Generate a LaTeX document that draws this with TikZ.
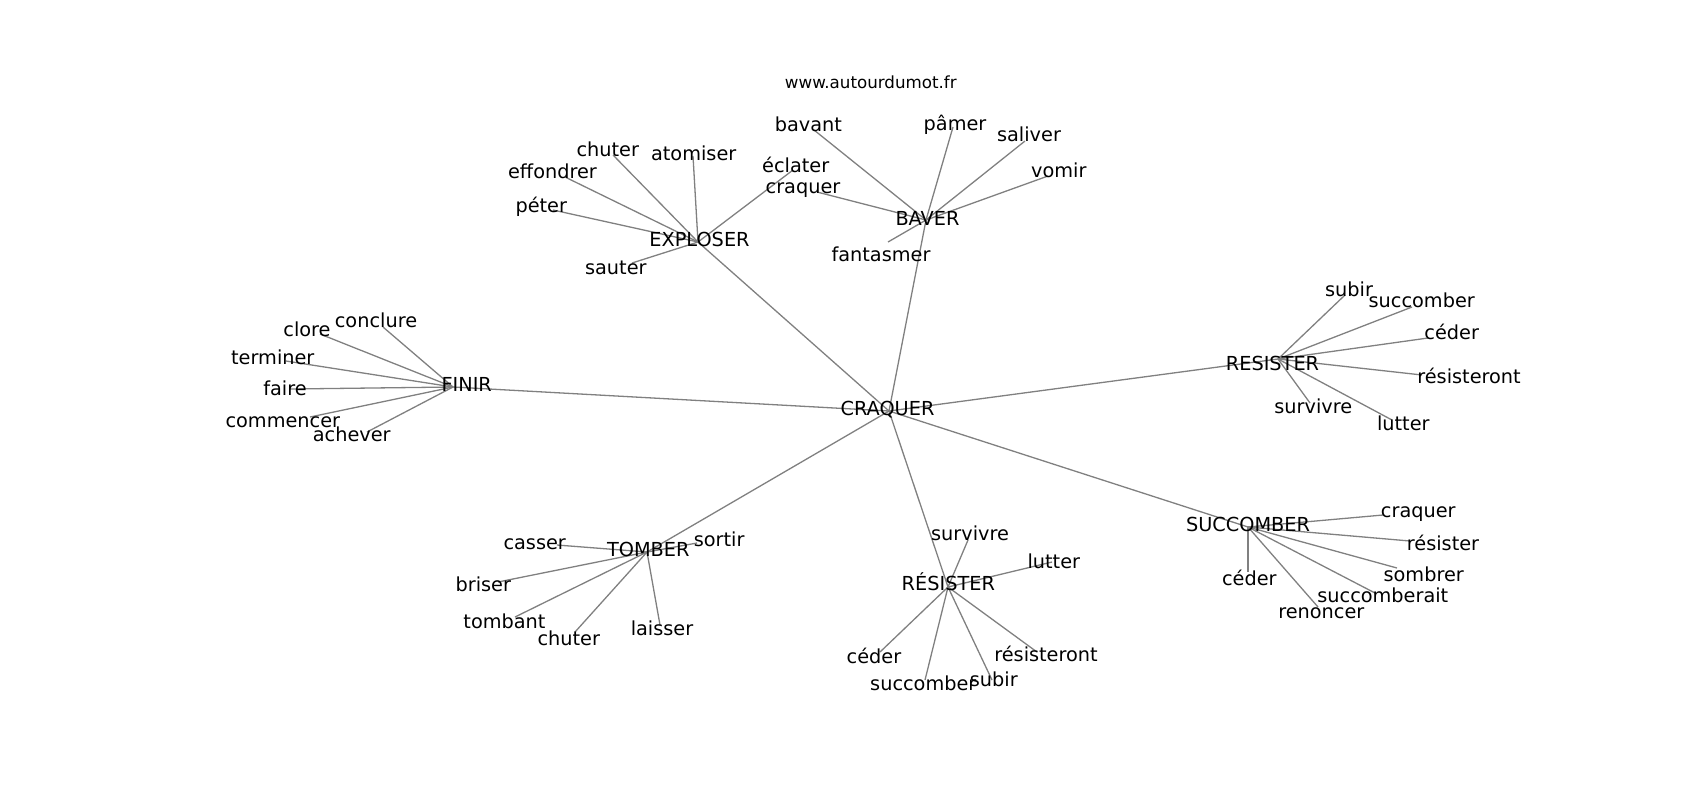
\documentclass[tikz,border=0pt]{standalone}
\usepackage{fontspec}
\setmainfont{DejaVu Sans}
\definecolor{edgegray}{RGB}{128,128,128}

\begin{document}
\begin{tikzpicture}[x=0.5pt,y=-0.5pt,
    edge/.style={draw=edgegray, line width=0.65pt},
    word/.style={inner sep=0pt, anchor=base, font=\fontsize{9.65}{11}\selectfont},
    site/.style={inner sep=0pt, anchor=base, font=\fontsize{8.35}{10}\selectfont}]
\useasboundingbox (0,0) rectangle (1700,800);

% graph points
\coordinate (craquer) at (889,411);
\coordinate (exploser) at (698,242);
\coordinate (baver) at (926,220);
\coordinate (finir) at (453,387);
\coordinate (resister) at (1278,359);
\coordinate (succomber) at (1248,527);
\coordinate (tomber) at (647,552);
\coordinate (resister2) at (948,587);

\coordinate (ex-chuter) at (613,155);
\coordinate (ex-atomiser) at (693,156);
\coordinate (ex-effondrer) at (565,177);
\coordinate (ex-peter) at (553,210);
\coordinate (ex-sauter) at (632,263);
\coordinate (ex-eclater) at (793,170);

\coordinate (ba-bavant) at (814,130);
\coordinate (ba-pamer) at (953,127);
\coordinate (ba-saliver) at (1025,141);
\coordinate (ba-vomir) at (1048,176);
\coordinate (ba-craquer) at (817,192);
\coordinate (ba-fantasmer) at (888,242);

\coordinate (fi-conclure) at (383,327);
\coordinate (fi-clore) at (320,334);
\coordinate (fi-terminer) at (286,361);
\coordinate (fi-faire) at (290,389);
\coordinate (fi-commencer) at (310,417);
\coordinate (fi-achever) at (367,432);

\coordinate (rs-subir) at (1345,295);
\coordinate (rs-succomber) at (1412,307);
\coordinate (rs-ceder) at (1428,338);
\coordinate (rs-resisteront) at (1422,375);
\coordinate (rs-survivre) at (1310,403);
\coordinate (rs-lutter) at (1392,420);

\coordinate (sc-craquer) at (1383,515);
\coordinate (sc-resister) at (1410,541);
\coordinate (sc-sombrer) at (1397,568);
\coordinate (sc-succomberait) at (1375,593);
\coordinate (sc-ceder) at (1248,572);
\coordinate (sc-renoncer) at (1318,607);

\coordinate (to-casser) at (557,545);
\coordinate (to-sortir) at (697,543);
\coordinate (to-briser) at (498,582);
\coordinate (to-tombant) at (515,617);
\coordinate (to-chuter) at (575,632);
\coordinate (to-laisser) at (660,625);

\coordinate (re-survivre) at (968,540);
\coordinate (re-lutter) at (1052,562);
\coordinate (re-ceder) at (880,652);
\coordinate (re-succomber) at (925,680);
\coordinate (re-subir) at (992,680);
\coordinate (re-resisteront) at (1037,652);

% edges
\foreach \hub in {exploser,baver,finir,resister,succomber,tomber,resister2}
  \draw[edge] (craquer) -- (\hub);
\foreach \leaf in {chuter,atomiser,effondrer,peter,sauter,eclater}
  \draw[edge] (exploser) -- (ex-\leaf);
\foreach \leaf in {bavant,pamer,saliver,vomir,craquer,fantasmer}
  \draw[edge] (baver) -- (ba-\leaf);
\foreach \leaf in {conclure,clore,terminer,faire,commencer,achever}
  \draw[edge] (finir) -- (fi-\leaf);
\foreach \leaf in {subir,succomber,ceder,resisteront,survivre,lutter}
  \draw[edge] (resister) -- (rs-\leaf);
\foreach \leaf in {craquer,resister,sombrer,succomberait,ceder,renoncer}
  \draw[edge] (succomber) -- (sc-\leaf);
\foreach \leaf in {casser,sortir,briser,tombant,chuter,laisser}
  \draw[edge] (tomber) -- (to-\leaf);
\foreach \leaf in {survivre,lutter,ceder,succomber,subir,resisteront}
  \draw[edge] (resister2) -- (re-\leaf);

% labels
\node[site] (site) at (870.8,88.3) {www.autourdumot.fr};

\node[word] (t-craquer) at (887.5,415) {CRAQUER};
\node[word] (t-exploser) at (699.5,246.7) {EXPLOSER};
\node[word] (t-baver) at (927.5,225) {BAVER};
\node[word] (t-finir) at (466.7,391.7) {FINIR};
\node[word] (t-resister) at (1272.5,370) {RESISTER};
\node[word] (t-succomber) at (1248,531.7) {SUCCOMBER};
\node[word] (t-tomber) at (648.3,556.7) {TOMBER};
\node[word] (t-resister2) at (948.3,590) {RÉSISTER};

\node[word] (t-ex-chuter) at (607.8,156.7) {chuter};
\node[word] (t-ex-atomiser) at (693.7,160.7) {atomiser};
\node[word] (t-ex-effondrer) at (552.5,178.3) {effondrer};
\node[word] (t-ex-peter) at (541.3,212.7) {péter};
\node[word] (t-ex-sauter) at (615.8,274) {sauter};
\node[word] (t-ex-eclater) at (795.7,172.7) {éclater};

\node[word] (t-ba-bavant) at (808.3,131) {bavant};
\node[word] (t-ba-pamer) at (955,130) {pâmer};
\node[word] (t-ba-saliver) at (1029,141.7) {saliver};
\node[word] (t-ba-vomir) at (1058.8,177.7) {vomir};
\node[word] (t-ba-craquer) at (803,193.5) {craquer};
\node[word] (t-ba-fantasmer) at (881,261.7) {fantasmer};

\node[word] (t-fi-conclure) at (376,327.7) {conclure};
\node[word] (t-fi-clore) at (307,336.7) {clore};
\node[word] (t-fi-terminer) at (272.8,364.3) {terminer};
\node[word] (t-fi-faire) at (285,395.7) {faire};
\node[word] (t-fi-commencer) at (282.8,427.7) {commencer};
\node[word] (t-fi-achever) at (351.7,441.7) {achever};

\node[word] (t-rs-subir) at (1349,296) {subir};
\node[word] (t-rs-succomber) at (1421.7,307.3) {succomber};
\node[word] (t-rs-ceder) at (1451.7,339.3) {céder};
\node[word] (t-rs-resisteront) at (1469,383.3) {résisteront};
\node[word] (t-rs-survivre) at (1313.3,413.3) {survivre};
\node[word] (t-rs-lutter) at (1403.3,430) {lutter};

\node[word] (t-sc-craquer) at (1418.3,517.3) {craquer};
\node[word] (t-sc-resister) at (1443,550) {résister};
\node[word] (t-sc-sombrer) at (1423.7,581) {sombrer};
\node[word] (t-sc-succomberait) at (1382.8,602.7) {succomberait};
\node[word] (t-sc-ceder) at (1249.3,585) {céder};
\node[word] (t-sc-renoncer) at (1321.3,618.3) {renoncer};

\node[word] (t-to-casser) at (534.7,549.3) {casser};
\node[word] (t-to-sortir) at (719.2,546.7) {sortir};
\node[word] (t-to-briser) at (483.3,591.7) {briser};
\node[word] (t-to-tombant) at (504.5,628.3) {tombant};
\node[word] (t-to-chuter) at (568.8,645) {chuter};
\node[word] (t-to-laisser) at (662,635) {laisser};

\node[word] (t-re-survivre) at (970,540) {survivre};
\node[word] (t-re-lutter) at (1053.8,568.3) {lutter};
\node[word] (t-re-ceder) at (874,663.3) {céder};
\node[word] (t-re-succomber) at (923.3,690) {succomber};
\node[word] (t-re-subir) at (993.8,686.7) {subir};
\node[word] (t-re-resisteront) at (1046,661.7) {résisteront};
\end{tikzpicture}
\end{document}
